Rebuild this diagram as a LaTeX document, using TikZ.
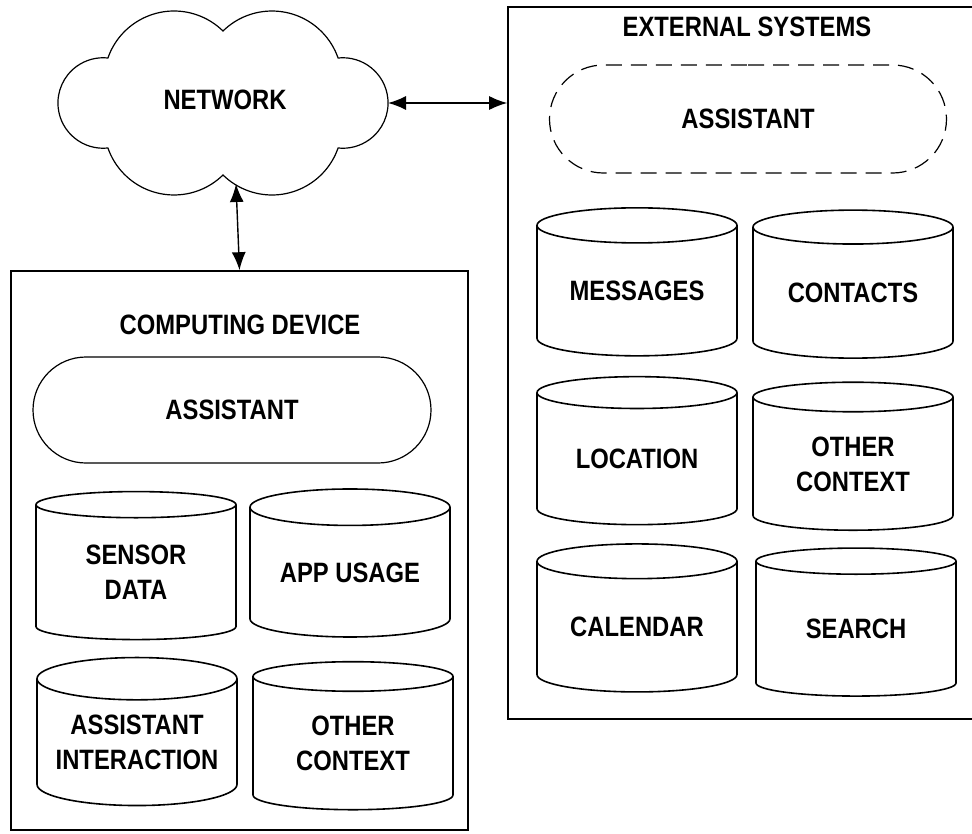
\documentclass[tikz,border=0pt]{standalone}
\usepackage{fontspec}
\setmainfont[FakeStretch=0.85]{Liberation Sans}
\usetikzlibrary{shapes,arrows.meta}

\begin{document}
\begin{tikzpicture}[x=1pt,y=-1pt,
    every node/.style={font=\bfseries\fontsize{28}{35}\selectfont, inner sep=0pt},
    frame/.style={draw, line width=1.6},
    store/.style={cylinder, shape border rotate=90, draw, line width=1.6, aspect=0.26,
      minimum width=200, minimum height=148, align=center},
    pill/.style={rounded rectangle, draw, line width=1.2},
    arr/.style={{Latex[length=18,width=14]}-{Latex[length=18,width=14]}, line width=1.4}]
      \useasboundingbox (0,0) rectangle (972,833);
      % network cloud, six puffs
      \draw [line width=1.2] (223,31) arc (-134.4:-19.2:70) arc (-96:96:45.25)
        arc (19.2:134.4:70) arc (45.6:160.8:70) arc (84:276:45.25)
        arc (199.2:314.4:70) -- cycle;
      \node (net) at (225,100) {NETWORK};
      \coordinate (netE) at (388,103);
      \coordinate (netS) at (236,184);
      % the two systems
      \node [frame, minimum width=457, minimum height=559] (dev) at (239.5,550.5) {};
      \node [frame, minimum width=472, minimum height=712] (ext) at (744,363) {};
      \draw [arr] (netE) -- (netE -| ext.west);
      \draw [arr] (netS) -- (dev.north);
      % computing device
      \node (devtitle) at (240,325) {COMPUTING DEVICE};
      \node [pill, minimum width=398, minimum height=106] (devasst) at (232,410) {ASSISTANT};
      \node [store] (sensor) at (136,572.5) {SENSOR\\DATA};
      \node [store] (appuse) at (350,572.5) {APP USAGE};
      \node [store] (interact) at (137,742.5) {ASSISTANT\\INTERACTION};
      \node [store] (devother) at (353,743.5) {OTHER\\CONTEXT};
      % external systems
      \node (exttitle) at (747,27) {EXTERNAL SYSTEMS};
      \node [pill, dash pattern=on 16 off 9, minimum width=397, minimum height=108] (extasst) at (748,119) {ASSISTANT};
      \node [store] (msgs) at (637,291) {MESSAGES};
      \node [store] (contacts) at (853,293) {CONTACTS};
      \node [store] (loc) at (637,459) {LOCATION};
      \node [store] (extother) at (853,464) {OTHER\\CONTEXT};
      \node [store] (cal) at (637,627) {CALENDAR};
      \node [store] (search) at (856,629) {SEARCH};
\end{tikzpicture}
\end{document}
